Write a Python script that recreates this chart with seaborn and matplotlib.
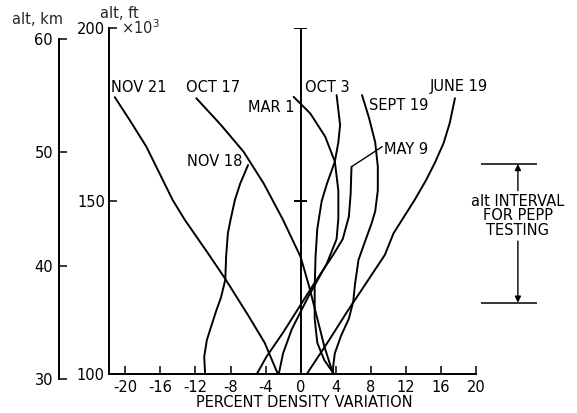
import matplotlib
matplotlib.use("Agg")
import matplotlib.pyplot as plt
import numpy as np
import pandas as pd
import seaborn as sns

# ---------------- data (percent density variation vs altitude, 10^3 ft) ----------------
nov21_alt = [180, 173, 165.7, 157.5, 150.3, 144.5, 135, 127.5, 116.6, 109, 100]
nov21_pct = [-21.2, -19.4, -17.6, -16.0, -14.6, -13.2, -10.6, -8.6, -5.9, -4.1, -2.6]

oct17_alt = [179.7, 172, 164.2, 155, 144.5, 133.8, 125, 117, 108, 100]
oct17_pct = [-11.9, -9.1, -6.5, -4.2, -2.0, 0.0, 1.0, 1.8, 2.7, 3.7]

nov18_alt = [160.4, 155, 150.3, 144.5, 140.7, 134, 127.2, 122, 118.5, 113, 109.8, 105, 100]
nov18_pct = [-6.0, -6.9, -7.5, -8.0, -8.3, -8.5, -8.6, -9.1, -9.6, -10.3, -10.7, -11.0, -10.9]

mar1_alt = [180.1, 175.3, 168.6, 161.4, 153, 145, 139, 132, 122, 113, 106, 100]
mar1_pct = [-0.8, 1.1, 2.8, 3.9, 4.3, 4.3, 4.1, 3.0, 0.8, -1.0, -2.0, -2.5]

oct3_alt = [180.6, 172, 167, 161.4, 155, 150, 142, 134, 125, 116, 109, 104, 100]
oct3_pct = [4.1, 4.5, 4.3, 3.9, 3.0, 2.4, 1.9, 1.7, 1.6, 1.6, 1.9, 2.7, 3.8]

may9_alt = [159.9, 152, 145.5, 139, 134.4, 126, 120, 112, 105, 100]
may9_pct = [5.8, 5.7, 5.5, 4.8, 3.7, 1.5, 0.0, -2.0, -3.9, -5.0]

sept19_alt = [180.6, 174, 167, 160, 153, 147, 143.6, 138, 133, 126, 121, 116, 111, 106, 102, 100]
sept19_pct = [7.0, 7.8, 8.5, 8.8, 8.8, 8.5, 8.1, 7.3, 6.6, 6.2, 6.0, 5.5, 4.6, 3.9, 3.7, 3.7]

june19_alt = [179.7, 172.5, 166.7, 161, 156, 150.3, 145.5, 140.7, 134.4, 126, 118, 110, 100]
june19_pct = [17.6, 17.0, 16.3, 15.3, 14.3, 13.0, 11.8, 10.6, 9.6, 7.4, 5.3, 3.3, 0.7]

curve_names = ["NOV 21", "OCT 17", "NOV 18", "MAR 1", "OCT 3", "MAY 9", "SEPT 19", "JUNE 19"]
curve_alts = [nov21_alt, oct17_alt, nov18_alt, mar1_alt, oct3_alt, may9_alt, sept19_alt, june19_alt]
curve_pcts = [nov21_pct, oct17_pct, nov18_pct, mar1_pct, oct3_pct, may9_pct, sept19_pct, june19_pct]

x_ticks = [-20, -16, -12, -8, -4, 0, 4, 8, 12, 16, 20]
x_tick_labels = ["-20", "-16", "-12", "-8", "-4", "0", "4", "8", "12", "16", "20"]
ft_ticks = [100, 150, 200]
ft_tick_labels = ["100", "150", "200"]
km_ticks = [30, 40, 50, 60]
km_tick_labels = ["30", "40", "50", "60"]
pepp_interval = [120.6, 160.7]   # 10^3 ft

rows = []
for name, alts, pcts in zip(curve_names, curve_alts, curve_pcts):
    for a, p in zip(alts, pcts):
        rows.append({"curve": name, "alt": a, "pct": p})
df = pd.DataFrame(rows)

# ---------------- layout (pixel based) ----------------
W, H = 577, 413
def fx(px): return px / W
def fy(py): return 1 - py / H

sns.set_theme(style="white")
plt.rcParams["font.family"] = ["DejaVu Sans"]
FS = 10.5
LW = 1.4

fig = plt.figure(figsize=(W / 100, H / 100), dpi=100)
fig.patch.set_facecolor("white")

ax = fig.add_axes([fx(109), fy(374), fx(476) - fx(109), fy(28) - fy(374)])
ax.set_xlim(-21.86, 20)
ax.set_ylim(100, 200)
ax.patch.set_visible(False)

sns.lineplot(data=df, x="pct", y="alt", units="curve", estimator=None, sort=False,
             color="black", lw=LW, ax=ax, legend=False)

for s in ["top", "right"]:
    ax.spines[s].set_visible(False)
for s in ["left", "bottom"]:
    ax.spines[s].set_color("black")
    ax.spines[s].set_linewidth(LW)

ax.set_xticks(x_ticks, x_tick_labels)
ax.set_yticks(ft_ticks, ft_tick_labels)
ax.tick_params(axis="x", direction="in", length=6, width=1.1, pad=4.3, labelsize=FS,
               colors="black", bottom=True)
ax.tick_params(axis="y", direction="in", length=6, width=1.1, pad=3, labelsize=FS,
               colors="black", left=True)
ax.set_ylabel("")
ax.set_xlabel("PERCENT DENSITY VARIATION", fontsize=FS, color="black")
ax.xaxis.set_label_coords((304.5 - 109) / 367, (374 - 395) / 346)

# zero reference line with caps
ax.vlines(0, 100, 200, color="black", lw=LW)
ax.hlines([150, 200], -0.75, 0.75, color="black", lw=LW)

# curve labels (data coords: left edge, vertical centre)
label_pos = {
    "NOV 21": (-21.6, 182.7), "OCT 17": (-13.1, 182.9), "MAR 1": (-6.0, 176.9),
    "OCT 3": (0.5, 182.9), "SEPT 19": (7.8, 177.7), "JUNE 19": (14.7, 183.2),
    "MAY 9": (9.5, 164.9), "NOV 18": (-13.0, 161.4),
}
for name, (lx, ly) in label_pos.items():
    ax.text(lx, ly, name, ha="left", va="center", fontsize=FS, color="black")

# MAY 9 leader
ax.plot([9.3, 5.8], [165.7, 159.9], color="black", lw=1.0)

# PEPP testing interval
ax.hlines(pepp_interval, 20.56, 26.95, color="black", lw=1.1, clip_on=False)
ax.text(24.78, 145.7, "alt INTERVAL\nFOR PEPP\nTESTING", ha="center", va="center",
        fontsize=FS, color="black", linespacing=0.95, multialignment="center")
ax.annotate("", xy=(24.78, pepp_interval[1]), xytext=(24.78, 153.0),
            arrowprops=dict(arrowstyle="-|>", color="black", lw=1.0, mutation_scale=9,
                            shrinkA=0, shrinkB=0), annotation_clip=False)
ax.annotate("", xy=(24.78, pepp_interval[0]), xytext=(24.78, 138.4),
            arrowprops=dict(arrowstyle="-|>", color="black", lw=1.0, mutation_scale=9,
                            shrinkA=0, shrinkB=0), annotation_clip=False)

# km axis
ax2 = fig.add_axes([fx(59), fy(379.4), fx(75) - fx(59), fy(39) - fy(379.4)])
ax2.set_ylim(30, 60)
ax2.patch.set_visible(False)
for s in ["top", "right", "bottom"]:
    ax2.spines[s].set_visible(False)
ax2.spines["left"].set_color("black")
ax2.spines["left"].set_linewidth(LW)
ax2.set_xticks([])
ax2.set_yticks(km_ticks, km_tick_labels)
ax2.tick_params(axis="y", direction="in", length=6, width=1.1, pad=4.3, labelsize=FS,
                colors="black", left=True)

# axis titles
fig.text(fx(37.5), fy(20), "alt, km", ha="center", va="center", fontsize=FS)
fig.text(fx(119.5), fy(13), "alt, ft", ha="center", va="center", fontsize=FS)
fig.text(fx(121), fy(28), "×10$^3$", ha="left", va="center", fontsize=FS)

fig.savefig("out.png", dpi=100, facecolor="white")
